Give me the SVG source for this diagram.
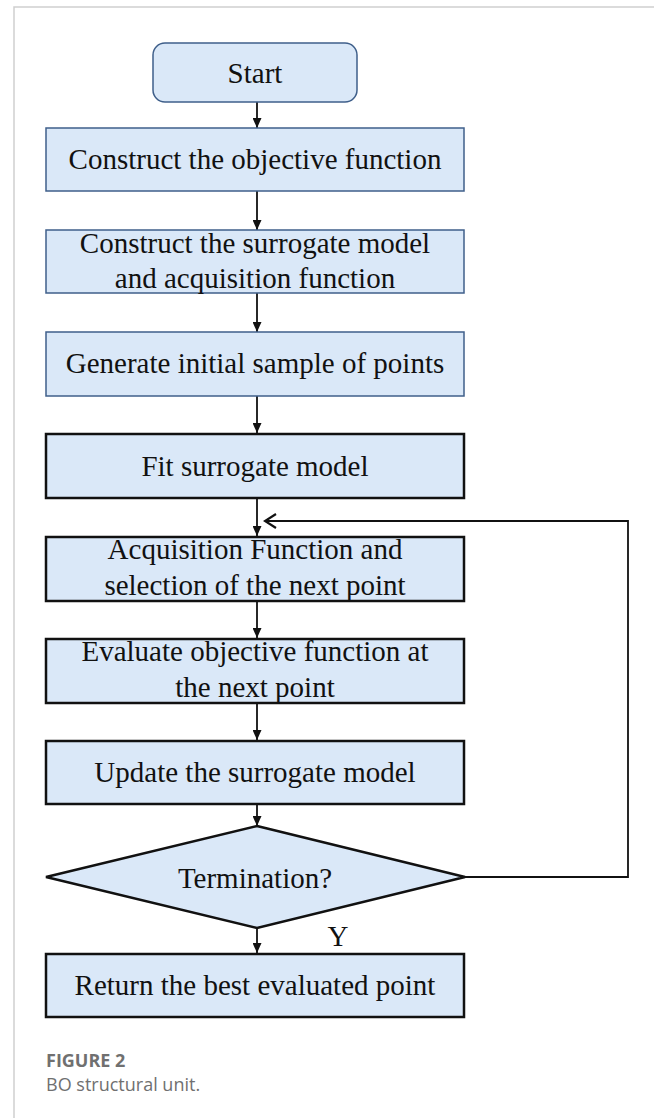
<svg xmlns="http://www.w3.org/2000/svg" width="654" height="1118" viewBox="0 0 654 1118">
  <style>
    .lbl { font-family: "Liberation Serif", "Times New Roman", serif; font-size: 29px; fill: #111; text-anchor: middle; }
    .soft { fill: #dae8f8; stroke: #3f5f8a; stroke-width: 1.5; }
    .hard { fill: #dae8f8; stroke: #111; stroke-width: 2.5; }
    .wire { fill: none; stroke: #111; stroke-width: 1.8; }
    .cap { font-family: "Open Sans", "Liberation Sans", sans-serif; fill: #707070; font-size: 18px; }
  </style>
  <defs>
    <marker id="tip" viewBox="0 0 10 10" refX="10" refY="5" markerWidth="10" markerHeight="9" orient="auto" markerUnits="userSpaceOnUse" preserveAspectRatio="none">
      <path d="M0,0 L10,5 L0,10 z" fill="#111"/>
    </marker>
    <marker id="chev" viewBox="0 0 14 16" refX="12" refY="8" markerWidth="14" markerHeight="16" orient="auto" markerUnits="userSpaceOnUse">
      <path d="M1,1 L12,8 L1,15" fill="none" stroke="#111" stroke-width="2.2"/>
    </marker>
  </defs>

  <!-- page frame -->
  <path d="M14,1118 V7 H654" fill="none" stroke="#cfcfcf" stroke-width="1.5"/>

  <g id="connectors">
    <line class="wire" x1="257" y1="102" x2="257" y2="128" marker-end="url(#tip)"/>
    <line class="wire" x1="257" y1="191" x2="257" y2="230" marker-end="url(#tip)"/>
    <line class="wire" x1="257" y1="293" x2="257" y2="332" marker-end="url(#tip)"/>
    <line class="wire" x1="257" y1="396" x2="257" y2="433" marker-end="url(#tip)"/>
    <line class="wire" x1="257" y1="498" x2="257" y2="536" marker-end="url(#tip)"/>
    <line class="wire" x1="257" y1="601" x2="257" y2="638" marker-end="url(#tip)"/>
    <line class="wire" x1="257" y1="703" x2="257" y2="740" marker-end="url(#tip)"/>
    <line class="wire" x1="257" y1="804" x2="257" y2="826" marker-end="url(#tip)"/>
    <line class="wire" x1="257" y1="928" x2="257" y2="953" marker-end="url(#tip)"/>
    <path class="wire" d="M465,877 H628 V521 H265" marker-end="url(#chev)"/>
    <text class="lbl" x="338" y="946">Y</text>
  </g>

  <g id="start">
    <rect x="153" y="43" width="204" height="59" rx="12" class="soft"/>
    <text class="lbl" x="255" y="83">Start</text>
  </g>
  <g id="objective">
    <rect x="46" y="128" width="418" height="63" class="soft"/>
    <text class="lbl" x="255" y="169">Construct the objective function</text>
  </g>
  <g id="surrogate">
    <rect x="46" y="230" width="418" height="63" class="soft"/>
    <text class="lbl" x="255" y="253">Construct the surrogate model</text>
    <text class="lbl" x="255" y="288">and acquisition function</text>
  </g>
  <g id="sample">
    <rect x="46" y="332" width="418" height="64" class="soft"/>
    <text class="lbl" x="255" y="373">Generate initial sample of points</text>
  </g>
  <g id="fit">
    <rect x="46" y="434" width="418" height="64" class="hard"/>
    <text class="lbl" x="255" y="476">Fit surrogate model</text>
  </g>
  <g id="acquire">
    <rect x="46" y="537" width="418" height="64" class="hard"/>
    <text class="lbl" x="255" y="559">Acquisition Function and</text>
    <text class="lbl" x="255" y="595">selection of the next point</text>
  </g>
  <g id="evaluate">
    <rect x="46" y="639" width="418" height="64" class="hard"/>
    <text class="lbl" x="255" y="661">Evaluate objective function at</text>
    <text class="lbl" x="255" y="697">the next point</text>
  </g>
  <g id="update">
    <rect x="46" y="741" width="418" height="63" class="hard"/>
    <text class="lbl" x="255" y="782">Update the surrogate model</text>
  </g>
  <g id="termination">
    <polygon points="257,826 465,877 257,928 46,877" class="hard"/>
    <text class="lbl" x="255" y="888">Termination?</text>
  </g>
  <g id="result">
    <rect x="46" y="954" width="418" height="63" class="hard"/>
    <text class="lbl" x="255" y="995">Return the best evaluated point</text>
  </g>

  <g id="caption">
    <text class="cap" x="46" y="1067" font-weight="700">FIGURE 2</text>
    <text class="cap" x="46" y="1091">BO structural unit.</text>
  </g>
</svg>
